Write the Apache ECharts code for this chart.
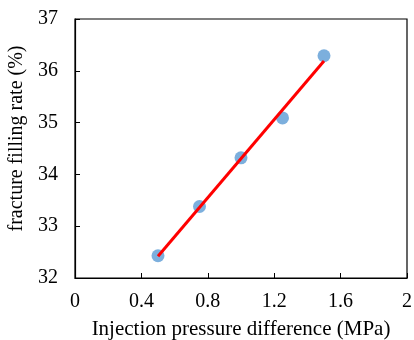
<!DOCTYPE html>
<html>
<head>
<meta charset="utf-8">
<script src="https://cdn.jsdelivr.net/npm/echarts@6/dist/echarts.min.js"></script>
<style>
  html, body { margin: 0; padding: 0; background: #fff; }
  #chart { width: 414px; height: 340px; }
</style>
</head>
<body>
<div id="chart"></div>
<script>
// measured points
const pressure = [0.5, 0.75, 1.0, 1.25, 1.5];
const fillingRate = [32.43, 33.38, 34.32, 35.09, 36.29];
// fitted trend line end points
const fitX = [0.5, 1.5];
const fitY = [32.42, 36.19];

const font = 'Liberation Serif';

const myChart = echarts.init(document.getElementById('chart'));

const option = {
  animation: false,
  grid: {
    left: 75,
    right: 7,
    top: 19,
    bottom: 62,
    outerBoundsMode: 'none',
    show: true,
    borderColor: '#000',
    borderWidth: 1.2,
  },
  xAxis: {
    type: 'value',
    min: 0,
    max: 2,
    interval: 0.4,
    name: 'Injection pressure difference (MPa)',
    nameLocation: 'middle',
    nameGap: 41,
    nameTextStyle: { fontFamily: font, fontSize: 21, color: '#000' },
    axisLine: { lineStyle: { color: '#000', width: 1.2 } },
    axisTick: { inside: true, length: 5, lineStyle: { color: '#000' } },
    axisLabel: { fontFamily: font, fontSize: 20, color: '#000', margin: 14 },
    splitLine: { show: false },
  },
  yAxis: {
    type: 'value',
    min: 32,
    max: 37,
    interval: 1,
    name: 'fracture filling rate (%)',
    nameLocation: 'middle',
    nameGap: 43,
    nameTextStyle: { fontFamily: font, fontSize: 20, color: '#000', padding: [0, 0, 0, 20] },
    axisLine: { show: true, lineStyle: { color: '#000', width: 1.2 } },
    axisTick: { show: true, inside: true, length: 5, lineStyle: { color: '#000' } },
    axisLabel: { fontFamily: font, fontSize: 20, color: '#000', margin: 17 },
    splitLine: { show: false },
  },
  series: [
    {
      type: 'scatter',
      symbolSize: 13,
      itemStyle: { color: '#5B9BD5' },
      data: pressure.map((x, i) => [x, fillingRate[i]]),
      z: 2,
    },
    {
      type: 'line',
      symbol: 'none',
      lineStyle: { color: '#FF0000', width: 3 },
      data: fitX.map((x, i) => [x, fitY[i]]),
      z: 3,
    },
  ],
};

myChart.setOption(option);
</script>
</body>
</html>
